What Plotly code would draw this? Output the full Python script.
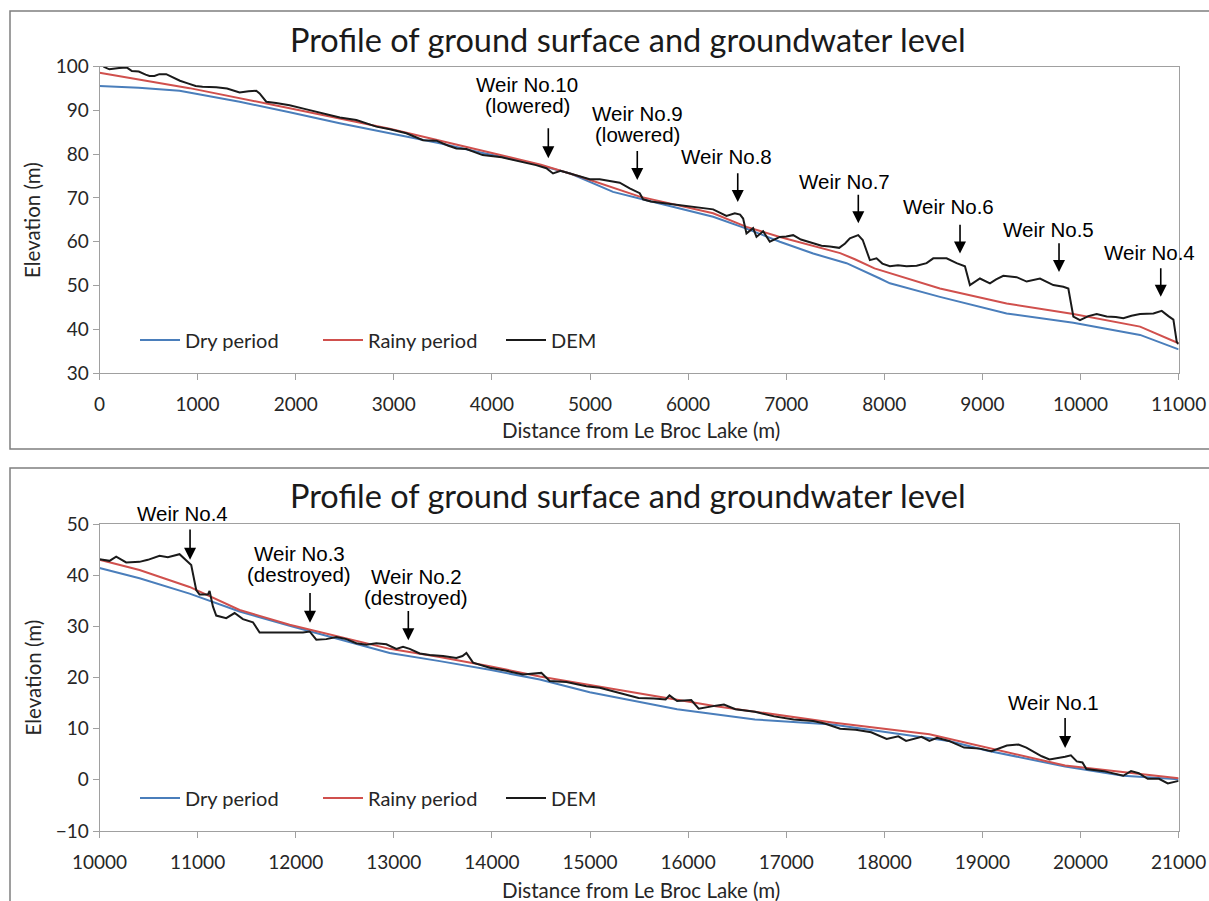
import plotly.graph_objects as go

# ---- upper profile (0 - 11000 m) ----
top_dry_x = [0, 400, 816, 918, 1428, 1938, 2448, 2958, 3468, 3906, 4400, 4800, 4997, 5235, 5575,
             6255, 6595, 6935, 7275, 7615, 7955, 8057, 8567, 9247, 9927, 10607, 11000]
top_dry_y = [95.6, 95.2, 94.5, 94.1, 92.0, 89.6, 87.1, 84.8, 82.5, 80.3, 78.0, 75.6, 73.7, 71.4, 69.5,
             65.7, 63.0, 60.0, 57.3, 55.1, 51.6, 50.5, 47.4, 43.6, 41.5, 38.7, 35.4]

top_rainy_x = [0, 918, 1938, 2958, 3958, 4500, 4895, 5507, 6255, 6595, 6935, 7550, 7700, 7900,
               8567, 9247, 9927, 10607, 11000]
top_rainy_y = [98.6, 95.1, 90.5, 85.8, 80.5, 77.6, 74.9, 70.3, 66.5, 63.4, 61.1, 57.4, 56.0, 53.9,
               49.3, 45.9, 43.5, 40.6, 36.8]

top_dem_x = [40, 100, 200, 280, 330, 400, 470, 510, 560, 610, 680, 740, 820, 900, 980, 1050, 1190, 1300,
             1428, 1520, 1598, 1632, 1700, 1800, 1938, 2100, 2278, 2346, 2450, 2618, 2700, 2822, 2960,
             3128, 3298, 3434, 3550, 3638, 3740, 3906, 4100, 4300, 4450, 4555, 4623, 4700, 4800, 4895,
             4997, 5099, 5200, 5303, 5405, 5507, 5541, 5620, 5760, 5915, 6034, 6150, 6255, 6391, 6476,
             6530, 6561, 6595, 6630, 6663, 6697, 6765, 6833, 6935, 7000, 7071, 7150, 7275, 7360, 7445,
             7540, 7600, 7649, 7734, 7780, 7853, 7921, 7980, 8057, 8140, 8227, 8330, 8431, 8499, 8635,
             8737, 8822, 8873, 8975, 9077, 9140, 9213, 9349, 9451, 9587, 9723, 9825, 9876, 9927, 9995,
             10080, 10165, 10267, 10360, 10437, 10520, 10607, 10743, 10828, 10896, 10947, 10981, 11000]
top_dem_y = [100.0, 99.4, 99.7, 99.8, 99.0, 98.9, 98.2, 97.9, 97.9, 98.3, 98.3, 97.6, 96.8, 96.2, 95.6,
             95.4, 95.3, 95.0, 94.1, 94.4, 94.5, 93.9, 92.0, 91.7, 91.2, 90.3, 89.3, 88.9, 88.4, 87.8,
             87.2, 86.3, 85.7, 84.8, 83.2, 83.1, 82.0, 81.3, 81.2, 79.8, 79.3, 78.3, 77.5, 76.8, 75.6,
             76.2, 75.6, 75.0, 74.3, 74.3, 73.9, 73.5, 72.2, 71.1, 69.7, 69.2, 68.8, 68.4, 68.1, 67.7,
             67.4, 65.9, 66.5, 66.2, 65.3, 61.9, 62.6, 63.1, 61.1, 62.4, 60.0, 61.1, 61.2, 61.5, 60.5,
             59.6, 59.1, 58.9, 58.6, 59.6, 60.8, 61.5, 60.4, 55.8, 56.2, 55.0, 54.4, 54.6, 54.4, 54.5,
             55.1, 56.2, 56.2, 55.1, 54.4, 50.1, 51.6, 50.5, 51.4, 52.2, 51.9, 50.9, 51.6, 50.1, 49.7,
             49.3, 42.9, 42.1, 43.0, 43.5, 42.9, 42.8, 42.5, 43.1, 43.5, 43.6, 44.2, 43.0, 42.2, 37.1,
             36.6]

# ---- lower profile (10000 - 21000 m) ----
bot_dry_x = [10000, 10408, 10918, 11428, 11938, 12448, 12958, 13468, 13978, 14488, 14997, 15888,
             16681, 17471, 18261, 18658, 19053, 19843, 20436, 21000]
bot_dry_y = [41.4, 39.4, 36.4, 32.9, 30.1, 27.5, 24.8, 23.2, 21.5, 19.6, 17.1, 13.8,
             11.8, 10.8, 8.7, 7.6, 5.7, 2.6, 0.8, 0.1]

bot_rainy_x = [10000, 10408, 10918, 11428, 11938, 12448, 12958, 13468, 13978, 14488, 14997, 15600,
               16283, 17471, 18460, 19053, 19843, 20633, 21000]
bot_rainy_y = [43.0, 41.0, 37.7, 33.2, 30.3, 27.9, 25.6, 24.0, 22.2, 20.2, 18.6, 16.6,
               14.4, 11.2, 8.9, 6.3, 2.8, 1.1, 0.3]

bot_dem_x = [10000, 10102, 10170, 10272, 10408, 10493, 10612, 10697, 10816, 10884, 10935, 10986, 11020,
             11105, 11122, 11156, 11190, 11292, 11377, 11462, 11564, 11632, 12006, 12074, 12142, 12210,
             12312, 12414, 12516, 12618, 12720, 12822, 12924, 13026, 13094, 13162, 13264, 13366, 13502,
             13638, 13700, 13740, 13808, 13978, 14148, 14317, 14504, 14589, 14760, 14963, 15099, 15300,
             15495, 15650, 15771, 15810, 15888, 16032, 16108, 16283, 16365, 16482, 16681, 16878, 17076,
             17274, 17393, 17550, 17708, 17866, 18024, 18143, 18222, 18380, 18460, 18538, 18658, 18814,
             18972, 19092, 19250, 19368, 19448, 19605, 19684, 19843, 19902, 19962, 20020, 20060, 20238,
             20436, 20515, 20594, 20685, 20800, 20890, 21000]
bot_dem_y = [43.1, 42.8, 43.6, 42.5, 42.6, 43.0, 43.8, 43.5, 44.1, 43.0, 42.0, 37.1, 36.2,
             36.2, 36.9, 33.9, 32.1, 31.6, 32.6, 31.4, 30.8, 28.8, 28.8, 28.8, 29.0, 27.4,
             27.5, 27.9, 27.5, 26.7, 26.4, 26.7, 26.5, 25.6, 26.0, 25.6, 24.7, 24.4, 24.2,
             23.8, 24.2, 24.8, 22.9, 21.9, 21.3, 20.6, 20.9, 19.3, 19.1, 18.3, 18.0, 17.0,
             16.0, 15.9, 15.7, 16.5, 15.4, 15.6, 13.9, 14.5, 14.7, 13.8, 13.3, 12.4, 11.8,
             11.5, 11.0, 10.0, 9.8, 9.3, 8.0, 8.5, 7.6, 8.4, 7.6, 8.2, 7.6, 6.3,
             6.1, 5.6, 6.7, 6.9, 6.3, 4.6, 4.0, 4.5, 4.8, 3.6, 3.4, 2.1, 1.7,
             0.8, 1.7, 1.3, 0.2, 0.2, -0.7, -0.2]

# ---- weirs: label lines, label position, arrow position (top of arrow, tip) ----
top_weir_text = [["Weir No.10", "(lowered)"], ["Weir No.9", "(lowered)"], ["Weir No.8"], ["Weir No.7"],
                 ["Weir No.6"], ["Weir No.5"], ["Weir No.4"]]
top_weir_text_x = [4358, 5489, 6393, 7599, 8652, 9672, 10708]
top_weir_text_y = [96.0, 89.4, 79.4, 73.7, 68.0, 62.7, 57.5]
top_weir_x = [4575, 5482, 6506, 7735, 8772, 9781, 10818]
top_weir_y0 = [86.3, 81.1, 76.0, 71.1, 64.2, 60.0, 54.3]
top_weir_y1 = [79.1, 74.1, 69.1, 64.2, 57.3, 53.1, 47.4]

bot_weir_text = [["Weir No.4"], ["Weir No.3", "(destroyed)"], ["Weir No.2", "(destroyed)"], ["Weir No.1"]]
bot_weir_text_x = [10846, 12034, 13231, 19725]
bot_weir_text_y = [49.9, 44.3, 39.8, 15.1]
bot_weir_shift = [11, 0, 0, 0]
bot_weir_x = [10923, 12146, 13148, 19843]
bot_weir_y0 = [49.2, 36.8, 33.3, 12.4]
bot_weir_y1 = [43.0, 30.7, 27.3, 6.2]

BLUE = "#4A7EBB"
RED = "#D0504D"
CAL = "Lato"
W, H = 1209, 901

fig = go.Figure()

series = [
    ("Dry period", BLUE, top_dry_x, top_dry_y, bot_dry_x, bot_dry_y),
    ("Rainy period", RED, top_rainy_x, top_rainy_y, bot_rainy_x, bot_rainy_y),
    ("DEM", "#1a1a1a", top_dem_x, top_dem_y, bot_dem_x, bot_dem_y),
]
for nome, cor, tx, ty, bx, by in series:
    fig.add_trace(go.Scatter(x=tx, y=ty, mode="lines", name=nome, line=dict(color=cor, width=2),
                             xaxis="x", yaxis="y", legend="legend"))
    fig.add_trace(go.Scatter(x=bx, y=by, mode="lines", name=nome, line=dict(color=cor, width=2),
                             xaxis="x2", yaxis="y2", legend="legend2"))

# eixos
eixo = dict(showgrid=False, zeroline=False, showline=True, linecolor="#A0A0A0", linewidth=1,
            mirror=True, ticks="outside", ticklen=6, tickcolor="#A0A0A0", tickformat="d",
            automargin=False, tickfont=dict(family=CAL, size=19, color="#262626"))
px0, px1 = 99.5 / W, 1178.6 / W
fig.update_layout(
    xaxis=dict(eixo, domain=[px0, px1], range=[0, 11000], dtick=1000, anchor="y", ticklabelstandoff=8),
    yaxis=dict(eixo, domain=[(H - 373) / H, (H - 66.7) / H], range=[30, 100], dtick=10, anchor="x"),
    xaxis2=dict(eixo, domain=[px0, px1], range=[10000, 21000], dtick=1000, anchor="y2", ticklabelstandoff=8),
    yaxis2=dict(eixo, domain=[(H - 831) / H, (H - 524) / H], range=[-10, 50], dtick=10, anchor="x2"),
)

# legendas
leg = dict(orientation="h", xanchor="left", yanchor="middle", bgcolor="rgba(0,0,0,0)",
           font=dict(family=CAL, size=20, color="#262626"), entrywidth=128, itemwidth=40)
fig.update_layout(
    legend=dict(leg, x=135 / W, y=(H - 340) / H),
    legend2=dict(leg, x=135 / W, y=(H - 798) / H),
)

anots = []
# titulos e rotulos dos eixos
for yt, yx, yy in [(39.3, 430, 220), (495, 890, 677.5)]:
    anots.append(dict(text="Profile of ground surface and groundwater level", xref="paper", yref="paper",
                      x=627.5 / W, y=(H - yt) / H, showarrow=False, xanchor="center", yanchor="middle",
                      font=dict(family=CAL, size=32.5, color="#1a1a1a")))
    anots.append(dict(text="Distance from Le Broc Lake (m)", xref="paper", yref="paper",
                      x=641 / W, y=(H - yx) / H, showarrow=False, xanchor="center", yanchor="middle",
                      font=dict(family=CAL, size=20.5, color="#262626")))
    anots.append(dict(text="Elevation (m)", xref="paper", yref="paper", textangle=-90,
                      x=32 / W, y=(H - yy) / H, showarrow=False, xanchor="center", yanchor="middle",
                      font=dict(family=CAL, size=20.5, color="#262626")))

# barragens
def weirs(textos, tx, ty, shift, ax, ay0, ay1, xr, yr):
    for linhas, x, y, s, a, y0, y1 in zip(textos, tx, ty, shift, ax, ay0, ay1):
        for i, linha in enumerate(linhas):
            anots.append(dict(text=linha, x=x, y=y, xref=xr, yref=yr, showarrow=False,
                              yshift=s - 21 * i, xanchor="center", yanchor="middle",
                              font=dict(family="Liberation Sans", size=20.5, color="black")))
        anots.append(dict(text="", x=a, y=y1, ax=a, ay=y0, xref=xr, yref=yr, axref=xr, ayref=yr,
                          showarrow=True, arrowhead=2, arrowsize=1.5, arrowwidth=1.6,
                          arrowcolor="black", standoff=0))

weirs(top_weir_text, top_weir_text_x, top_weir_text_y, [0] * 7, top_weir_x, top_weir_y0, top_weir_y1, "x", "y")
weirs(bot_weir_text, bot_weir_text_x, bot_weir_text_y, bot_weir_shift, bot_weir_x, bot_weir_y0, bot_weir_y1,
      "x2", "y2")

# molduras dos paineis
moldura = dict(type="rect", xref="paper", yref="paper", line=dict(color="#7F7F7F", width=1.5),
               fillcolor="rgba(0,0,0,0)", layer="below")
shapes = [
    dict(moldura, x0=10 / W, x1=1.05, y0=(H - 449) / H, y1=(H - 11) / H),
    dict(moldura, x0=10 / W, x1=1.05, y0=-0.05, y1=(H - 468) / H),
]

fig.update_layout(
    annotations=anots,
    shapes=shapes,
    width=W,
    height=H,
    autosize=False,
    margin=dict(l=0, r=0, t=0, b=0, pad=0, autoexpand=False),
    paper_bgcolor="white",
    plot_bgcolor="white",
)

fig.write_html("out.html", config={"displayModeBar": False},
               post_script="document.body.style.margin='0';document.body.style.overflow='hidden';")
